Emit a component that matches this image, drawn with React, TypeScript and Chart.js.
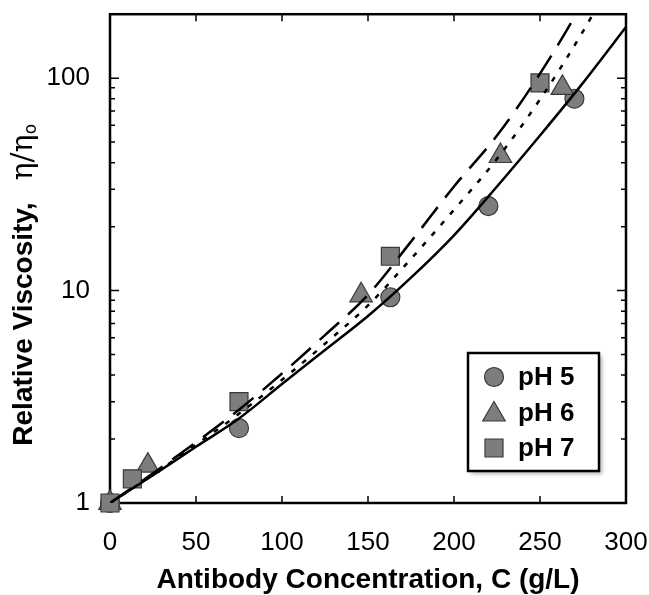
import React, { useEffect, useRef } from "react";
import { Chart, registerables } from "chart.js";

Chart.register(...registerables);

// ---- Data ----
const xTickValues = [0, 50, 100, 150, 200, 250, 300];
const yTickValues = [1, 10, 100];
const yMinorTickValues = [2, 3, 4, 5, 6, 7, 8, 9, 20, 30, 40, 50, 60, 70, 80, 90, 200];

const seriesLabels = ["pH 5", "pH 6", "pH 7"];

const ph5X = [0, 75, 163, 220, 270];
const ph5Y = [1, 2.25, 9.3, 25, 80];
const ph6X = [0, 22, 146, 227, 263];
const ph6Y = [1, 1.5, 9.5, 43, 90];
const ph7X = [0, 13, 75, 163, 250];
const ph7Y = [1, 1.3, 3.0, 14.5, 95];

const fitX = [0, 25, 50, 75, 100, 125, 150, 175, 200, 225, 250, 275, 300];
const fitPh5 = [1, 1.35, 1.84, 2.5, 3.63, 5.25, 7.59, 11.5, 18.2, 30.9, 53.7, 95, 174];
const fitPh6 = [1, 1.36, 1.88, 2.63, 3.8, 5.62, 8.51, 14.1, 24.0, 41.7, 79.4, 166, 380];
const fitPh7 = [1, 1.38, 1.93, 2.75, 4.07, 6.17, 9.55, 17.0, 30.9, 53.7, 105, 229, 562];

const xTitle = "Antibody Concentration, C (g/L)";
const yTitleBold = "Relative Viscosity,";
const yTitleSymbol = "η/η";
const yTitleSub = "o";

const FONT = "'Liberation Sans', Arial, Helvetica, sans-serif";
const MARKER_FILL = "#7d7d7d";
const MARKER_EDGE = "#3a3a3a";

const toPts = (xs: number[], ys: number[]) => xs.map((x, i) => ({ x, y: ys[i] }));

function drawMarker(ctx: CanvasRenderingContext2D, style: string, x: number, y: number) {
  ctx.save();
  ctx.fillStyle = MARKER_FILL;
  ctx.strokeStyle = MARKER_EDGE;
  ctx.lineWidth = 1.2;
  ctx.beginPath();
  if (style === "circle") {
    ctx.arc(x, y, 9.5, 0, Math.PI * 2);
  } else if (style === "triangle") {
    const r = 13;
    for (let k = 0; k < 3; k++) {
      const a = (k * 2 * Math.PI) / 3;
      const px = x + Math.sin(a) * r;
      const py = y - Math.cos(a) * r + 2;
      if (k === 0) ctx.moveTo(px, py);
      else ctx.lineTo(px, py);
    }
    ctx.closePath();
  } else {
    ctx.rect(x - 9, y - 9, 18, 18);
  }
  ctx.fill();
  ctx.stroke();
  ctx.restore();
}

const framePlugin = {
  id: "frame",
  beforeDatasetsDraw(chart: any) {
    const { ctx, chartArea: a, scales } = chart;
    const xs = scales.x;
    const ys = scales.y;
    ctx.save();
    ctx.strokeStyle = "#000";
    ctx.lineWidth = 1.5;
    ctx.beginPath();
    xTickValues.forEach((v) => {
      const px = xs.getPixelForValue(v);
      ctx.moveTo(px, a.bottom);
      ctx.lineTo(px, a.bottom - 7);
      ctx.moveTo(px, a.top);
      ctx.lineTo(px, a.top + 7);
    });
    yTickValues.forEach((v) => {
      const py = ys.getPixelForValue(v);
      ctx.moveTo(a.left, py);
      ctx.lineTo(a.left + 9, py);
      ctx.moveTo(a.right, py);
      ctx.lineTo(a.right - 9, py);
    });
    yMinorTickValues.forEach((v) => {
      const py = ys.getPixelForValue(v);
      ctx.moveTo(a.left, py);
      ctx.lineTo(a.left + 5, py);
      ctx.moveTo(a.right, py);
      ctx.lineTo(a.right - 5, py);
    });
    ctx.stroke();
    ctx.lineWidth = 2.5;
    ctx.strokeRect(a.left, a.top, a.right - a.left, a.bottom - a.top);
    ctx.restore();
  },
  afterDraw(chart: any) {
    const { ctx, chartArea: a } = chart;
    ctx.save();
    // x title
    ctx.fillStyle = "#000";
    ctx.font = `bold 28px ${FONT}`;
    ctx.textAlign = "center";
    ctx.textBaseline = "middle";
    ctx.fillText(xTitle, (a.left + a.right) / 2, 580);

    // y title
    ctx.translate(22, 0);
    ctx.rotate(-Math.PI / 2);
    ctx.textAlign = "left";
    ctx.textBaseline = "alphabetic";
    ctx.font = `bold 28px ${FONT}`;
    const wBold = ctx.measureText(yTitleBold).width;
    ctx.font = `30px 'DejaVu Serif', serif`;
    const gap = 22;
    const wSym = ctx.measureText(yTitleSymbol).width;
    const total = wBold + gap + wSym + 12;
    const start = -(284 + total / 2);
    ctx.font = `bold 28px ${FONT}`;
    ctx.fillText(yTitleBold, start, 10);
    ctx.font = `30px 'DejaVu Serif', serif`;
    ctx.fillText(yTitleSymbol, start + wBold + gap, 10);
    ctx.font = `17px 'DejaVu Sans', sans-serif`;
    ctx.fillText(yTitleSub, start + wBold + gap + wSym, 14);
    ctx.restore();

    // legend
    const styles = ["circle", "triangle", "rect"];
    const bx = a.right - 158;
    const by = a.bottom - 150;
    const bw = 131;
    const bh = 118;
    ctx.save();
    ctx.shadowColor = "rgba(0,0,0,0.3)";
    ctx.shadowBlur = 4;
    ctx.shadowOffsetX = 3;
    ctx.shadowOffsetY = 3;
    ctx.fillStyle = "#fff";
    ctx.fillRect(bx, by, bw, bh);
    ctx.restore();
    ctx.save();
    ctx.strokeStyle = "#000";
    ctx.lineWidth = 2.5;
    ctx.strokeRect(bx, by, bw, bh);
    seriesLabels.forEach((lab, i) => {
      const cy = by + 24 + i * 35.5;
      drawMarker(ctx, styles[i], bx + 26, cy);
      ctx.fillStyle = "#000";
      ctx.font = `bold 26px ${FONT}`;
      ctx.textAlign = "left";
      ctx.textBaseline = "middle";
      ctx.fillText(lab, bx + 50, cy + 1);
    });
    ctx.restore();
  },
};

export default function App() {
  const canvasRef = useRef<HTMLCanvasElement | null>(null);

  useEffect(() => {
    if (!canvasRef.current) return;
    const markerCommon = {
      showLine: false,
      backgroundColor: MARKER_FILL,
      borderColor: MARKER_EDGE,
      borderWidth: 1.2,
      clip: false as any,
    };
    const lineCommon = {
      showLine: true,
      pointRadius: 0,
      borderColor: "#000",
      borderWidth: 2.5,
      cubicInterpolationMode: "monotone" as const,
      fill: false,
    };
    const chart = new Chart(canvasRef.current, {
      type: "scatter",
      data: {
        datasets: [
          { ...lineCommon, label: "fit pH 5", data: toPts(fitX, fitPh5) },
          { ...lineCommon, label: "fit pH 6", data: toPts(fitX, fitPh6), borderDash: [5, 9] },
          { ...lineCommon, label: "fit pH 7", data: toPts(fitX, fitPh7), borderDash: [26, 12] },
          { ...markerCommon, label: seriesLabels[2], data: toPts(ph7X, ph7Y), pointStyle: "rect", pointRadius: 12.7 },
          { ...markerCommon, label: seriesLabels[1], data: toPts(ph6X, ph6Y), pointStyle: "triangle", pointRadius: 13 },
          { ...markerCommon, label: seriesLabels[0], data: toPts(ph5X, ph5Y), pointStyle: "circle", pointRadius: 9.5 },
        ],
      },
      options: {
        animation: false,
        responsive: true,
        maintainAspectRatio: false,
        layout: { padding: { left: 0, right: 23, top: 13, bottom: 0 } },
        plugins: { legend: { display: false }, tooltip: { enabled: false } },
        scales: {
          x: {
            type: "linear",
            min: 0,
            max: 300,
            grid: { display: false, drawTicks: false },
            border: { display: false },
            afterBuildTicks: (s: any) => {
              s.ticks = xTickValues.map((v) => ({ value: v }));
            },
            afterFit: (s: any) => {
              s.height = 92;
              s.paddingLeft = 0;
              s.paddingRight = 0;
            },
            ticks: {
              color: "#000",
              font: { family: FONT, size: 26 },
              padding: 24,
              maxRotation: 0,
              autoSkip: false,
            },
          },
          y: {
            type: "logarithmic",
            min: 1,
            max: 200,
            grid: { display: false, drawTicks: false },
            border: { display: false },
            afterBuildTicks: (s: any) => {
              s.ticks = yTickValues.map((v) => ({ value: v, major: true }));
            },
            afterFit: (s: any) => {
              s.width = 110;
              s.paddingTop = 0;
              s.paddingBottom = 0;
            },
            ticks: {
              color: "#000",
              font: { family: FONT, size: 26 },
              padding: 20,
              autoSkip: false,
              callback: (v: any) => String(v),
            },
          },
        },
      },
      plugins: [framePlugin],
    });
    return () => chart.destroy();
  }, []);

  return (
    <div style={{ position: "fixed", left: 0, top: 0, width: 649, height: 595, background: "#fff" }}>
      <canvas ref={canvasRef} />
    </div>
  );
}
